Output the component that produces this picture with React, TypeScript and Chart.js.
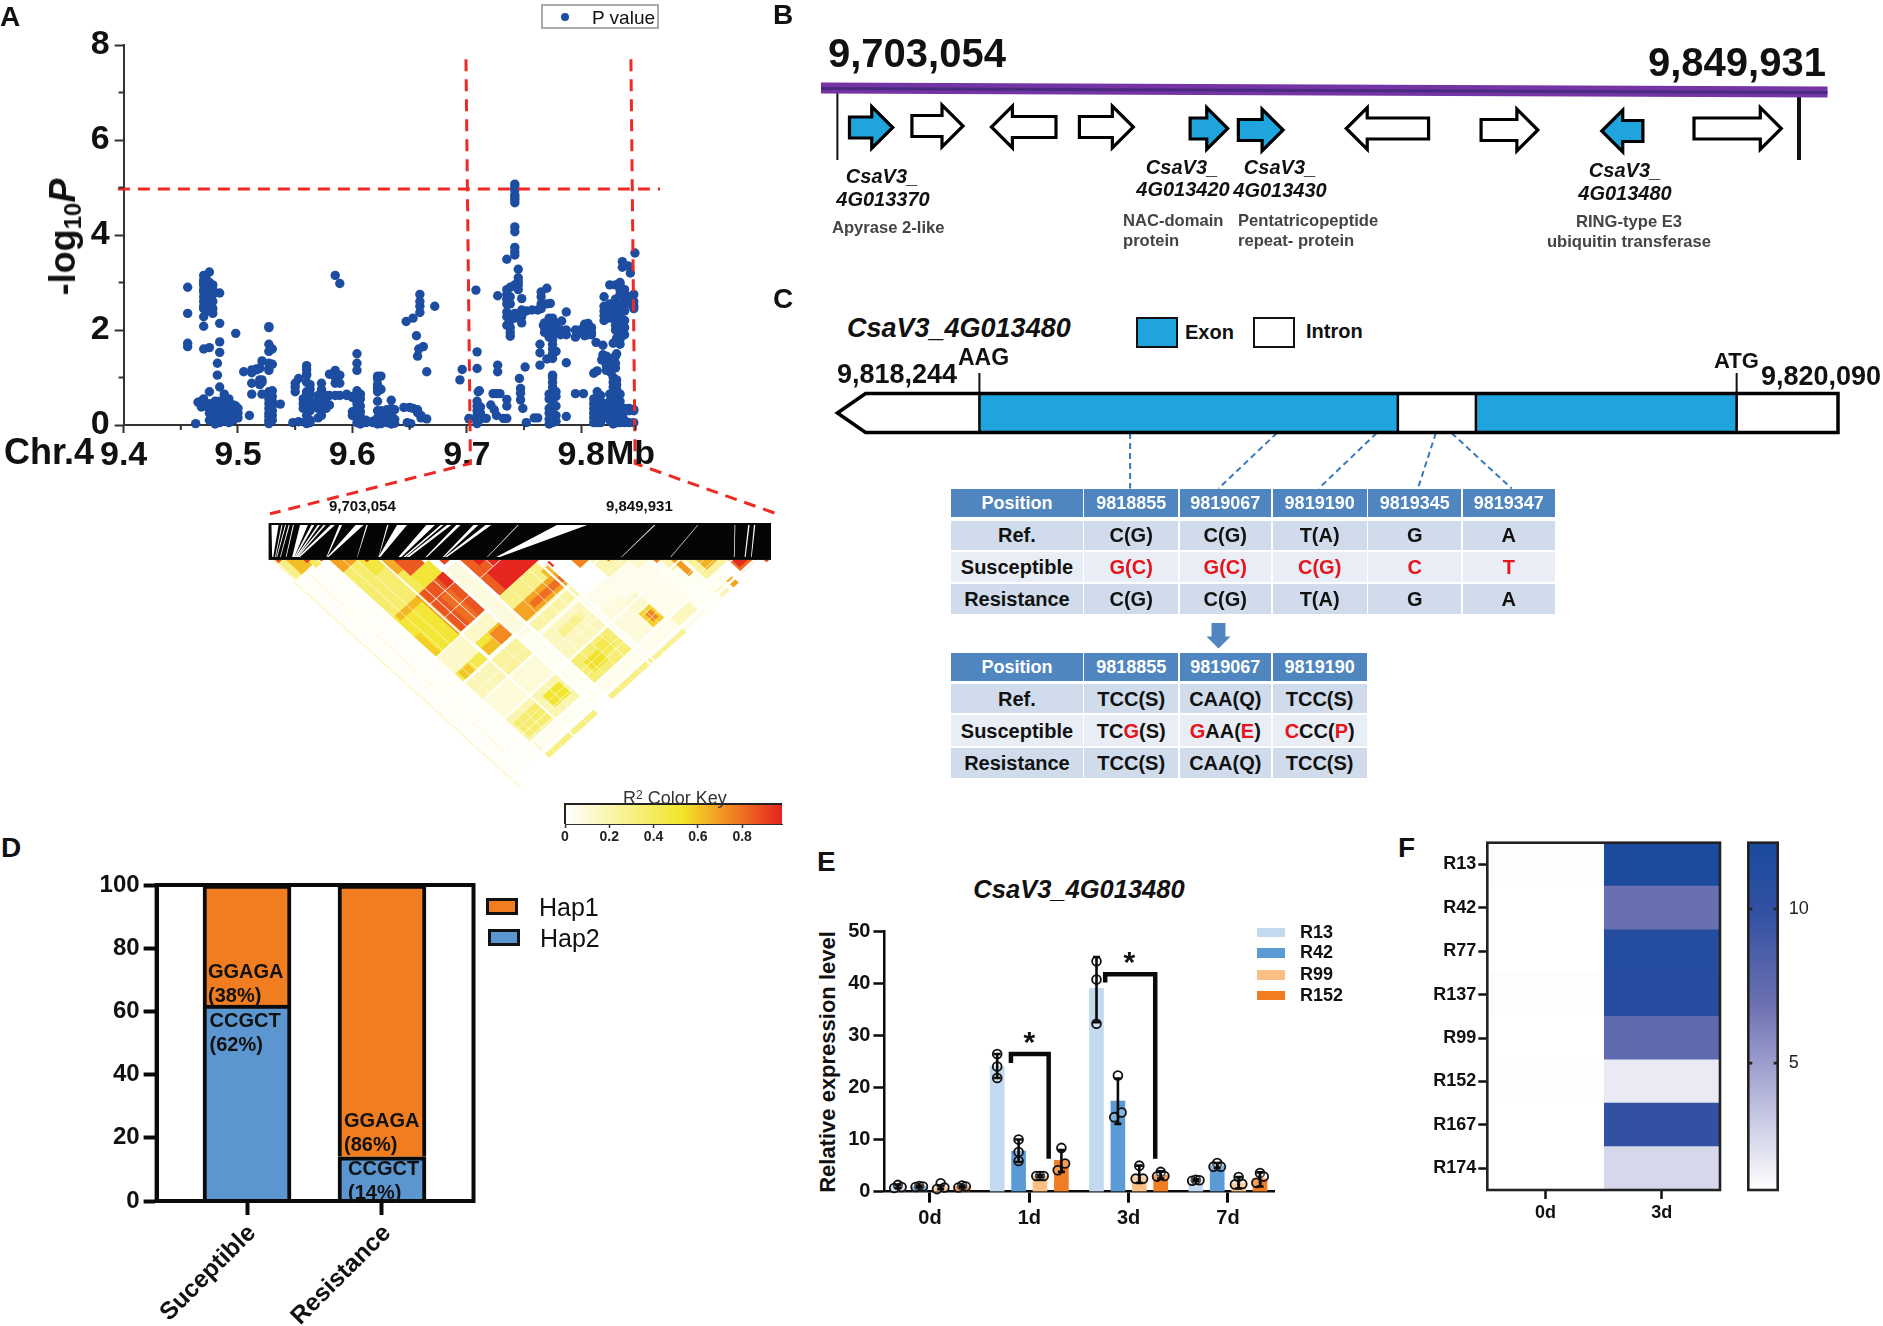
import React, { useEffect, useRef } from "react";
import { Chart, registerables } from "chart.js";

Chart.register(...registerables);

const FONT = '"Liberation Sans", Arial, sans-serif';

/* ---------- Panel A ---------- */
const snpColumns: [number, number[]][] = [
  [9.456, [2.9, 2.35, 1.72, 1.65]], [9.463, [0.03]], [9.465, [0.48]], [9.468, [0.5, 0.38]],
  [9.47, [3.15, 3.05, 3.0, 2.95, 2.85, 2.8, 2.7, 2.6, 2.5, 2.45, 2.28, 2.08, 1.6, 0.55, 0.4]],
  [9.472, [3.1, 2.95, 2.85, 2.75, 2.65, 2.5]],
  [9.475, [3.22, 3.0, 2.9, 2.8, 2.7, 2.6, 2.45, 2.4, 1.63, 0.7, 0.45, 0.35, 0.25, 0.1]],
  [9.478, [2.95, 2.85, 2.75, 2.6, 2.45, 2.35]], [9.48, [0.5, 0.4, 0.3, 0.2, 0.1, 0.02]],
  [9.482, [1.3, 1.05]], [9.484, [2.78, 2.14, 1.75, 1.53, 0.8, 0.5, 0.35, 0.2, 0.05]],
  [9.488, [0.65, 0.5, 0.4, 0.3, 0.2, 0.1]], [9.492, [0.55, 0.45, 0.35, 0.25, 0.15, 0.05]],
  [9.496, [0.42, 0.3, 0.2, 0.1]], [9.498, [1.93, 0.4, 0.3, 0.18]], [9.5, [0.35, 0.25, 0.15]],
  [9.505, [1.12]], [9.51, [0.2]], [9.512, [1.16, 1.1, 0.88, 0.65]], [9.516, [1.18, 1.16]],
  [9.519, [1.2, 1.19, 0.95, 0.85]], [9.521, [1.35, 0.95, 0.9, 0.65]],
  [9.527, [2.07, 2.05, 1.7, 1.55, 1.3, 1.2, 1.15, 0.7, 0.55, 0.45, 0.35, 0.25, 0.18, 0.1, 0.03]],
  [9.53, [1.6, 1.28, 0.72, 0.6, 0.5, 0.4, 0.3, 0.2, 0.1]], [9.537, [0.44]], [9.548, [0.05]],
  [9.55, [0.88, 0.8, 0.7]], [9.553, [0.98, 0.07]], [9.557, [0.55, 0.45, 0.35]],
  [9.56, [1.25, 1.17, 1.08, 1.05, 0.9, 0.7, 0.65, 0.55, 0.45, 0.35, 0.2, 0.1, 0.03]],
  [9.563, [0.85, 0.75, 0.65, 0.5, 0.4, 0.3, 0.1, 0.05]], [9.57, [0.62, 0.58, 0.45, 0.35, 0.15]],
  [9.573, [0.88, 0.75, 0.65, 0.55, 0.45, 0.33, 0.2]], [9.577, [0.62, 0.45, 0.35]],
  [9.58, [1.07, 0.62, 0.42]], [9.585, [3.15, 1.15, 1.0, 0.88, 0.62]],
  [9.589, [2.98, 1.05, 0.88, 0.62]], [9.595, [0.65, 0.62]], [9.6, [0.6, 0.58, 0.28, 0.2]],
  [9.604, [1.5, 1.3, 1.15, 0.72, 0.65, 0.55, 0.45, 0.35, 0.25, 0.15, 0.05]],
  [9.607, [0.65, 0.55, 0.4, 0.28, 0.18, 0.1, 0.02]], [9.612, [0.1, 0.05]], [9.618, [0.05, 0.08]],
  [9.622, [1.03, 0.98, 0.85, 0.78, 0.7, 0.5, 0.3, 0.15, 0.02]], [9.625, [1.03, 0.75, 0.3, 0.2, 0.1, 0.03]],
  [9.63, [0.32, 0.22, 0.12, 0.05]], [9.634, [0.52, 0.35, 0.2, 0.1, 0.02]], [9.637, [0.32, 0.12, 0.04]],
  [9.645, [0.37]], [9.647, [2.18]], [9.648, [0.05]], [9.65, [0.37]], [9.651, [0.03]], [9.653, [2.25, 0.35]],
  [9.656, [1.88]], [9.657, [1.45, 0.32, 0.26]], [9.658, [1.6]], [9.659, [2.75, 2.6, 2.5, 2.37]],
  [9.66, [0.2, 0.15]], [9.662, [1.65]], [9.665, [1.12, 0.13]], [9.672, [2.5]], [9.694, [0.95]],
  [9.696, [1.17]], [9.702, [0.14, 0.13]], [9.708, [2.84]],
  [9.709, [1.54, 1.19, 0.5, 0.4, 0.3, 0.2, 0.12, 0.03]], [9.71, [0.7]], [9.711, [0.72]],
  [9.712, [0.38, 0.25, 0.12]], [9.717, [0.14]], [9.721, [0.42]], [9.723, [0.66]], [9.724, [0.32]],
  [9.726, [0.66, 0.2]], [9.727, [2.72, 1.26, 1.12]], [9.729, [0.66]], [9.732, [0.14]],
  [9.735, [3.49, 2.85, 2.75, 2.65, 2.55, 2.38, 2.28, 2.1, 0.54, 0.4, 0.14]],
  [9.738, [2.9, 2.7, 2.55, 2.2, 2.05, 1.95, 1.87]],
  [9.742, [5.07, 5.0, 4.95, 4.85, 4.8, 4.75, 4.68, 4.17, 4.07, 3.74, 3.65, 3.58, 2.95, 2.35, 2.25]],
  [9.745, [3.28, 3.1, 3.02, 2.95, 2.85]], [9.746, [0.98]], [9.747, [0.77, 0.67, 0.53]],
  [9.748, [2.66, 2.42, 2.35, 2.28, 2.15]], [9.749, [0.35]], [9.751, [1.22]], [9.752, [2.4, 0.05]],
  [9.757, [2.42]], [9.759, [0.15]], [9.762, [2.42, 0.15]], [9.764, [1.7, 1.52, 1.26]],
  [9.765, [2.8, 2.7, 2.55, 2.45]], [9.767, [2.1]], [9.768, [2.15, 2.05, 1.95]], [9.77, [2.88, 2.55, 1.39]],
  [9.772, [2.25, 2.15, 2.05, 1.95, 1.85, 0.65, 0.55, 0.35, 0.25, 0.12, 0.02]], [9.773, [2.56]],
  [9.775, [2.25, 2.1, 2.0, 1.9, 1.8, 1.7, 1.6, 1.5, 1.4, 1.05, 1.0, 0.9, 0.8, 0.7, 0.62, 0.55, 0.45, 0.35, 0.25, 0.15, 0.05]],
  [9.778, [2.15, 2.0, 1.95, 1.55, 0.7, 0.6, 0.4, 0.2, 0.08]], [9.782, [2.0, 1.95, 1.9]], [9.783, [2.19]],
  [9.787, [2.38, 2.0, 1.9, 1.31, 0.18]], [9.795, [2.0, 1.85, 0.66]], [9.799, [2.0, 1.95]],
  [9.802, [0.66]], [9.803, [2.12, 2.0, 1.88]], [9.806, [2.14, 2.0, 1.9]], [9.809, [2.05, 1.95, 1.9]],
  [9.811, [1.09, 0.55, 0.45, 0.35, 0.25, 0.15, 0.05]], [9.813, [1.74]],
  [9.814, [1.14, 0.7, 0.55, 0.45, 0.35, 0.2, 0.05]], [9.817, [0.62, 0.5, 0.35, 0.2, 0.05]],
  [9.818, [1.37]], [9.819, [1.68, 1.48]], [9.82, [2.7, 2.5, 2.4, 2.3, 2.2, 0.45, 0.3, 0.18]],
  [9.822, [1.45, 1.35, 1.25, 1.15]], [9.825, [2.95, 2.55, 2.45, 2.35, 2.25, 0.65, 0.5, 0.4, 0.3, 0.2, 0.1]],
  [9.826, [1.4, 1.3, 1.2, 1.1]], [9.828, [1.72, 1.0, 0.9, 0.8, 0.7, 0.6, 0.5, 0.4, 0.3, 0.2, 0.1, 0.02]],
  [9.83, [2.95, 2.65, 2.55, 2.45, 2.35, 2.2, 2.1, 2.0, 1.45, 1.3, 1.2]],
  [9.831, [1.83, 1.5, 0.95, 0.85, 0.75, 0.6, 0.45, 0.35, 0.25, 0.15, 0.05]],
  [9.834, [3.0, 2.95, 2.85, 2.75, 2.55, 2.45, 2.3, 2.1, 2.0, 1.9, 1.8, 1.7, 0.65, 0.5, 0.4, 0.3, 0.2, 0.05]],
  [9.836, [3.44, 3.32]], [9.838, [2.85, 2.7, 2.55, 2.4, 2.2, 2.05, 1.9, 0.35, 0.28, 0.1, 0.05]],
  [9.841, [3.35]], [9.842, [2.7, 2.6, 2.55, 0.35, 0.3, 0.05]], [9.843, [3.2]],
  [9.846, [2.75, 2.6, 2.5, 2.45, 0.33, 0.3, 0.05]], [9.847, [3.62]],
];
const aXTicks = [9.4, 9.5, 9.6, 9.7, 9.8];
const aXMinor = [9.45, 9.55, 9.65, 9.75, 9.8475];
const aYTicks = [0, 2, 4, 6, 8];
const aYMinor = [1, 3, 5, 7];
const thresholdLine = [{ x: 9.395, y: 4.97 }, { x: 9.869, y: 4.97 }];
const regionLeft = [{ x: 9.6993, y: 7.7 }, { x: 9.7032, y: -0.81 }, { x: 9.528, y: -1.87 }];
const regionRight = [{ x: 9.8435, y: 7.7 }, { x: 9.8472, y: -0.81 }, { x: 9.971, y: -1.87 }];

/* ---------- LD heat map: [iFrom, iTo, jFrom, jTo, r2] in SNP index ---------- */
const ldBlocks: [number, number, number, number, number][] = [
  [52, 222, 190, 1420, 0.015], [222, 360, 980, 1425, 0.04], [360, 580, 965, 1425, 0.03],
  [583, 820, 1030, 1425, 0.05], [820, 1110, 1050, 1440, 0.05], [1110, 1290, 1110, 1440, 0.03],
  [52, 58, 190, 1460, 0.16], [120, 125, 190, 1300, 0.1], [228, 234, 980, 1420, 0.14],
  [60, 190, 60, 190, 0.14], [70, 120, 70, 190, 0.3], [100, 160, 100, 190, 0.62], [160, 190, 160, 210, 0.4],
  [222, 360, 222, 578, 0.36], [222, 300, 222, 300, 0.68], [300, 360, 300, 400, 0.48],
  [360, 400, 360, 460, 0.66], [400, 480, 400, 500, 0.85], [360, 400, 460, 578, 0.42], [400, 500, 500, 578, 0.5],
  [222, 360, 578, 820, 0.5], [235, 360, 578, 610, 0.63], [222, 250, 700, 820, 0.58],
  [355, 505, 577, 812, 0.86], [355, 372, 577, 812, 0.68], [470, 505, 577, 640, 0.95], [420, 470, 650, 812, 0.8],
  [505, 580, 580, 1000, 0.08],
  [590, 810, 590, 810, 0.97], [590, 625, 590, 810, 0.84], [625, 660, 660, 700, 0.84],
  [583, 800, 810, 890, 0.3], [583, 818, 890, 965, 0.68], [650, 818, 915, 945, 0.8], [583, 820, 965, 1030, 0.22],
  [780, 818, 850, 890, 0.62], [818, 835, 840, 870, 0.95],
  [375, 505, 888, 965, 0.62], [440, 505, 900, 965, 0.74], [375, 440, 890, 920, 0.5], [360, 505, 820, 888, 0.14],
  [222, 360, 825, 925, 0.14], [222, 360, 925, 975, 0.44], [235, 290, 930, 975, 0.6], [222, 360, 985, 1080, 0.18],
  [360, 505, 985, 1080, 0.24], [222, 505, 1090, 1195, 0.1],
  [586, 795, 1050, 1210, 0.16], [640, 760, 1080, 1120, 0.28], [586, 795, 1210, 1345, 0.35], [620, 700, 1250, 1310, 0.54],
  [700, 760, 1230, 1290, 0.44], [580, 820, 1420, 1445, 0.3],
  [222, 505, 1200, 1345, 0.2], [400, 490, 1240, 1310, 0.52], [235, 360, 1240, 1330, 0.36], [228, 500, 1425, 1450, 0.32],
  [820, 922, 1140, 1340, 0.09], [922, 983, 1180, 1256, 0.12], [922, 983, 1256, 1338, 0.58], [940, 970, 1275, 1320, 0.75],
  [820, 1000, 1425, 1445, 0.27], [1000, 1100, 1360, 1410, 0.16],
  [900, 950, 900, 950, 0.75], [950, 1060, 950, 1060, 0.2], [1060, 1120, 1060, 1120, 0.12],
  [1130, 1150, 1130, 1150, 0.75], [1150, 1220, 1150, 1220, 0.2], [1180, 1205, 1180, 1280, 0.7],
  [1220, 1340, 1220, 1340, 0.24], [1250, 1310, 1250, 1310, 0.65], [1340, 1420, 1340, 1420, 0.8], [1350, 1395, 1350, 1395, 0.96],
  [1270, 1300, 1400, 1440, 0.68], [1207, 1250, 1400, 1440, 0.18],
  [70, 90, 70, 90, 0.85], [150, 170, 150, 170, 0.9], [195, 205, 195, 205, 0.9], [320, 335, 320, 335, 0.9],
  [405, 420, 405, 420, 0.9], [530, 560, 530, 560, 0.9], [1000, 1010, 1000, 1010, 0.8], [1440, 1455, 1440, 1455, 0.9],
  // unlinked markers appear as white bands
  [215, 222, 215, 1460, 0], [360, 368, 360, 1460, 0], [505, 515, 505, 1460, 0], [574, 584, 574, 1460, 0],
  [795, 805, 810, 1460, 0], [818, 826, 826, 1460, 0], [52, 1460, 972, 980, 0], [52, 1460, 1200, 1208, 0],
  [52, 1460, 1346, 1354, 0], [52, 1460, 1408, 1420, 0], [52, 580, 1082, 1088, 0], [52, 520, 820, 825, 0],
  [400, 403, 577, 812, 0], [450, 453, 577, 812, 0], [355, 505, 640, 643, 0], [355, 505, 722, 725, 0],
  [660, 663, 590, 700, 0], [590, 810, 700, 703, 0],
  [260, 262, 260, 1460, 0], [300, 302, 300, 1460, 0], [440, 442, 820, 1460, 0], [640, 642, 810, 1460, 0],
  [700, 702, 810, 1460, 0], [750, 752, 810, 1460, 0], [870, 872, 870, 1460, 0], [950, 952, 950, 1460, 0],
  [52, 1460, 1040, 1042, 0], [52, 1460, 1120, 1122, 0], [52, 1460, 1150, 1152, 0], [52, 1460, 1270, 1272, 0],
  [52, 1460, 1300, 1302, 0],
];
const ldWedges: [number, number, number, number][] = [
  [60, 80, 62, 65], [88, 91, 70, 72], [98, 101, 74, 76], [108, 111, 84, 86], [120, 123, 100, 102], [140, 162, 118, 124],
  [172, 180, 124, 128], [190, 196, 128, 132], [206, 212, 130, 134], [226, 238, 134, 140], [250, 258, 214, 216], [296, 318, 216, 220],
  [326, 330, 300, 301], [384, 388, 360, 361], [412, 440, 360, 365], [494, 518, 416, 424], [534, 542, 430, 436], [552, 564, 438, 446],
  [578, 590, 492, 496], [626, 640, 540, 544], [660, 676, 546, 552], [750, 753, 664, 666], [860, 945, 690, 700],
  [1132, 1136, 1040, 1042], [1254, 1256, 1178, 1180], [1358, 1360, 1356, 1358], [1396, 1400, 1386, 1389], [1412, 1416, 1404, 1406],
];
const keyStops: [number, string][] = [[0, "#ffffff"], [0.53, "#f2e52a"], [0.7, "#f49a22"], [0.98, "#e4231f"]];
const keyTicks = [0, 0.2, 0.4, 0.6, 0.8];

/* ---------- Panel B ---------- */
const regionStart = 9703054;
const regionEnd = 9849931;
const geneStart = [9704897, 9714436, 9726577, 9740018, 9756929, 9764300, 9780777, 9801373, 9819801, 9833893];
const geneEnd = [9711509, 9722241, 9736441, 9748257, 9762674, 9771129, 9793351, 9810045, 9826088, 9847226];
const geneForward = [true, true, false, true, true, true, false, true, false, true];
const geneCandidate = [true, false, false, false, true, true, false, false, true, false];
const geneRow = [127.5, 126, 127, 127, 128.5, 130, 128.5, 130, 131, 128.5];

/* ---------- Panel C ---------- */
const utr3Tip = 9818244;
const bodyStart = 9818296;
const exon1Start = 9818506;
const exon1End = 9819278;
const exon2Start = 9819422;
const exon2End = 9819903;
const geneTail = 9820090;
const snpLinks: [number, number][] = [
  [9818784, 9818784], [9819055, 9818947], [9819239, 9819132], [9819348, 9819315], [9819377, 9819488],
];
const table1Columns = ["Position", "9818855", "9819067", "9819190", "9819345", "9819347"];
const table1Rows = [
  ["Ref.", "C(G)", "C(G)", "T(A)", "G", "A"],
  ["Susceptible", "[G(C)]", "[G(C)]", "[C(G)]", "[C]", "[T]"],
  ["Resistance", "C(G)", "C(G)", "T(A)", "G", "A"],
];
const table2Columns = ["Position", "9818855", "9819067", "9819190"];
const table2Rows = [
  ["Ref.", "TCC(S)", "CAA(Q)", "TCC(S)"],
  ["Susceptible", "TC[G](S)", "[G]AA([E])", "[C]CC([P])"],
  ["Resistance", "TCC(S)", "CAA(Q)", "TCC(S)"],
];

/* ---------- Panel D ---------- */
const dCategories = ["Suceptible", "Resistance"];
const hap2Values = [62, 14];
const hap1Values = [38, 86];
const dYTicks = [0, 20, 40, 60, 80, 100];

/* ---------- Panel E ---------- */
const eDays = ["0d", "1d", "3d", "7d"];
const eLines = ["R13", "R42", "R99", "R152"];
const eColors = ["#c3d9f0", "#5b9bd5", "#f9bf85", "#f07d22"];
const meanR13 = [0.9, 24, 39, 2.2];
const meanR42 = [1, 7.8, 17.4, 5];
const meanR99 = [0.9, 3, 2.9, 1.7];
const meanR152 = [1, 6, 3.2, 2.5];
const repsR13 = [[1.3, 0.9, 0.7], [26.4, 24, 21.8], [44.2, 40.7, 32.2], [2.3, 2.2, 2.1]];
const repsR42 = [[1.1, 1, 0.9], [10, 7.6, 5.9], [22.3, 15.2, 14.3], [5.5, 4.8, 4.8]];
const repsR99 = [[1.6, 0.8, 0.5], [3, 3, 3], [5, 2.5, 2.5], [2.8, 1.5, 1.4]];
const repsR152 = [[1.2, 1, 0.8], [8.4, 5.4, 4.1], [3.8, 3, 2.9], [3.6, 2.9, 1.7]];
const errR13: [number, number][] = [[0.7, 1.3], [21.8, 26.4], [32.5, 45], [2, 2.4]];
const errR42: [number, number][] = [[0.8, 1.2], [5.7, 10], [13, 21.7], [4.5, 5.5]];
const errR99: [number, number][] = [[0.5, 1.2], [2.8, 3.2], [1.7, 5], [0.6, 2.8]];
const errR152: [number, number][] = [[0.8, 1.2], [3.8, 8], [2.5, 3.9], [1, 3.7]];
const bracket1d = [{ x: 0.815, y: 24.7 }, { x: 0.815, y: 26.4 }, { x: 1.195, y: 26.4 }, { x: 1.195, y: 6.3 }];
const bracket3d = [{ x: 1.764, y: 40.1 }, { x: 1.764, y: 41.7 }, { x: 2.268, y: 41.7 }, { x: 2.268, y: 6.3 }];

/* ---------- Panel F ---------- */
const fRows = ["R13", "R42", "R77", "R137", "R99", "R152", "R167", "R174"];
const fColumns = ["0d", "3d"];
const fDay0 = [0.97, 0.92, 0.9, 0.97, 0.92, 0.96, 0.92, 0.9];
const fDay3 = [12, 7, 11.2, 11, 7.5, 1.8, 9.9, 2.6];
const fStops: [number, string][] = [
  [0.9, "#ffffff"], [2.6, "#d6d7ea"], [5, "#9c9dcd"], [7, "#6a6fb0"], [10, "#3050a2"], [12.15, "#1a4a9c"],
];

/* ---------- helpers ---------- */
type Box = { x: number; y: number; w: number; h: number };
type Plot = { l: number; t: number; r: number; b: number };

function hexRgb(h: string) {
  return [parseInt(h.slice(1, 3), 16), parseInt(h.slice(3, 5), 16), parseInt(h.slice(5, 7), 16)];
}
function ramp(stops: [number, string][], v: number) {
  if (v <= stops[0][0]) return stops[0][1];
  for (let k = 1; k < stops.length; k++) {
    if (v <= stops[k][0]) {
      const t = (v - stops[k - 1][0]) / (stops[k][0] - stops[k - 1][0]);
      const a = hexRgb(stops[k - 1][1]);
      const b = hexRgb(stops[k][1]);
      return `rgb(${a.map((c, n) => Math.round(c + (b[n] - c) * t)).join(",")})`;
    }
  }
  return stops[stops.length - 1][1];
}
const fitLeft = (box: Box, p: Plot) => ({
  padding: { left: 0, top: p.t - box.y, right: box.x + box.w - p.r, bottom: 0 },
  xFit: (s: any) => { s.height = box.y + box.h - p.b; s.paddingLeft = 0; s.paddingRight = 0; },
  yFit: (s: any) => { s.width = p.l - box.x; s.paddingTop = 0; s.paddingBottom = 0; },
});
const padAll = (box: Box, p: Plot) => ({
  left: p.l - box.x, top: p.t - box.y, right: box.x + box.w - p.r, bottom: box.y + box.h - p.b,
});
const base = {
  responsive: false, maintainAspectRatio: false, animation: false as const,
  plugins: { legend: { display: false }, tooltip: { enabled: false } },
};
const fixedTicks = (vals: number[]) => (s: any) => { s.ticks = vals.map((value) => ({ value })); };

function Panel({ box, config }: { box: Box; config: () => any }) {
  const ref = useRef<HTMLCanvasElement>(null);
  useEffect(() => {
    const c = new Chart(ref.current as HTMLCanvasElement, config());
    return () => c.destroy();
  }, []);
  return (
    <canvas ref={ref} width={box.w} height={box.h}
      style={{ position: "absolute", left: box.x, top: box.y, width: box.w, height: box.h }} />
  );
}

function T(p: { x: number; y: number; s: number; b?: boolean; i?: boolean; c?: string; a?: string; r?: number; children: any }) {
  const tx = p.a === "center" ? "-50%" : p.a === "right" ? "-100%" : "0";
  return (
    <div style={{
      position: "absolute", left: p.x, top: p.y, whiteSpace: "nowrap", lineHeight: 1,
      fontFamily: FONT, fontSize: p.s, fontWeight: p.b ? 700 : 400, fontStyle: p.i ? "italic" : "normal",
      color: p.c || "#111", transform: `translate(${tx},-50%)` + (p.r ? ` rotate(${p.r}deg)` : ""),
    }}>{p.children}</div>
  );
}
function Swatch({ x, y, w, h, fill, line = 0 }: { x: number; y: number; w: number; h: number; fill: string; line?: number }) {
  return <div style={{ position: "absolute", left: x, top: y, width: w, height: h, boxSizing: "border-box", background: fill, border: line ? `${line}px solid #111` : "none" }} />;
}
function Cell({ text, color }: { text: string; color: string }) {
  const parts = text.split(/(\[[^\]]*\])/).filter(Boolean);
  return <>{parts.map((s, k) => s[0] === "["
    ? <span key={k} style={{ color: "#e8141c" }}>{s.slice(1, -1)}</span>
    : <span key={k} style={{ color }}>{s}</span>)}</>;
}
function DataTable({ cols, rows, columns, body }: { cols: number[]; rows: number[][]; columns: string[]; body: string[][] }) {
  const all = [columns, ...body];
  const fill = ["#4f86c0", "#d0dcec", "#e9eef6", "#d0dcec"];
  return <>{all.flatMap((r, ri) => r.map((t, ci) => (
    <div key={ri + "-" + ci} style={{
      position: "absolute", left: cols[ci], top: rows[ri][0], width: cols[ci + 1] - cols[ci] - 1.5,
      height: rows[ri][1] - rows[ri][0], background: fill[ri], display: "flex", alignItems: "center",
      justifyContent: "center", fontFamily: FONT, fontWeight: 700, fontSize: ri === 0 ? 18 : 20, whiteSpace: "nowrap",
      paddingTop: 1, boxSizing: "border-box",
    }}><Cell text={t} color={ri === 0 ? "#ffffff" : "#111"} /></div>
  )))}</>;
}

/* ---------- chart configs ---------- */
const boxA: Box = { x: 0, y: 20, w: 800, h: 510 };
function configA() {
  const g = fitLeft(boxA, { l: 123.6, t: 45, r: 635.5, b: 425 });
  const points = snpColumns.flatMap(([x, ys]) => ys.map((y) => ({ x, y })));
  const red = { type: "line", borderColor: "#ee2a24", borderWidth: 3, borderDash: [12, 8], pointRadius: 0, clip: false, fill: false, tension: 0 };
  return {
    type: "scatter",
    data: {
      datasets: [
        { ...red, label: "threshold", data: thresholdLine },
        { ...red, label: "region start", data: regionLeft },
        { ...red, label: "region end", data: regionRight },
        { label: "P value", data: points, backgroundColor: "#1c4da0", borderColor: "#1c4da0", pointRadius: 4.7, pointBorderWidth: 0, clip: false },
      ],
    },
    options: {
      ...base,
      layout: { padding: g.padding },
      scales: {
        x: {
          type: "linear", min: 9.4, max: 9.8475, afterFit: g.xFit, afterBuildTicks: fixedTicks(aXTicks),
          border: { color: "#333", width: 2 },
          grid: { drawOnChartArea: false, tickLength: 8, tickWidth: 2, tickColor: "#333" },
          ticks: { autoSkip: false, maxRotation: 0, minRotation: 0, padding: 2, color: "#111", font: { family: FONT, size: 34, weight: "bold" }, callback: (v: number) => v.toFixed(1) },
        },
        y: {
          type: "linear", min: 0, max: 8, afterFit: g.yFit, afterBuildTicks: fixedTicks(aYTicks),
          border: { color: "#333", width: 2 },
          grid: { drawOnChartArea: false, tickLength: 9, tickWidth: 2, tickColor: "#333" },
          ticks: { autoSkip: false, padding: 5, color: "#111", font: { family: FONT, size: 34, weight: "bold" } },
        },
      },
    },
    plugins: [{
      id: "minorTicks",
      afterDraw(c: any) {
        const k = c.ctx, X = c.scales.x, Y = c.scales.y;
        k.save(); k.strokeStyle = "#333"; k.lineWidth = 2; k.beginPath();
        aXMinor.forEach((v) => { const p = X.getPixelForValue(v); k.moveTo(p, Y.bottom); k.lineTo(p, Y.bottom + 5); });
        aYMinor.forEach((v) => { const p = Y.getPixelForValue(v); k.moveTo(X.left, p); k.lineTo(X.left - 5, p); });
        k.stroke(); k.restore();
      },
    }],
  };
}

const boxLD: Box = { x: 260, y: 515, w: 520, h: 280 };
function configLD() {
  return {
    type: "scatter",
    data: { datasets: [{ label: "LD", data: [] }] },
    options: {
      ...base,
      layout: { padding: padAll(boxLD, { l: 268.6, t: 523, r: 771, b: 788 }) },
      scales: { x: { display: false, type: "linear", min: 52, max: 1460 }, y: { display: false, type: "linear", min: -228, max: 1408, reverse: true } },
    },
    plugins: [{
      id: "ld",
      afterDatasetsDraw(c: any) {
        const k = c.ctx, X = c.scales.x, Y = c.scales.y;
        const px = (i: number, j: number) => [X.getPixelForValue((i + j) / 2), Y.getPixelForValue(j - i)];
        k.save();
        k.beginPath(); k.moveTo(X.getPixelForValue(52), Y.getPixelForValue(0));
        k.lineTo(X.getPixelForValue(1460), Y.getPixelForValue(0));
        k.lineTo(X.getPixelForValue(756), Y.getPixelForValue(1408)); k.closePath(); k.clip();
        ldBlocks.forEach(([a, b, p, q, r]) => {
          const pts = [px(a, p), px(a, q), px(b, q), px(b, p)];
          k.fillStyle = ramp(keyStops, r);
          k.beginPath(); pts.forEach(([u, v], n) => (n ? k.lineTo(u, v) : k.moveTo(u, v))); k.closePath(); k.fill();
        });
        k.restore();
        k.save();
        const top = Y.getPixelForValue(-228), bot = Y.getPixelForValue(0);
        k.fillStyle = "#050505";
        k.fillRect(X.left, top, X.right - X.left, bot - top);
        k.fillStyle = "#ffffff";
        ldWedges.forEach(([a, b, d, e]) => {
          k.beginPath();
          k.moveTo(X.getPixelForValue(a), top + 2); k.lineTo(X.getPixelForValue(b), top + 2);
          k.lineTo(X.getPixelForValue(e), bot - 3); k.lineTo(X.getPixelForValue(d), bot - 3);
          k.closePath(); k.fill();
        });
        k.restore();
      },
    }],
  };
}

const boxKey: Box = { x: 550, y: 795, w: 250, h: 55 };
function configKey() {
  const g = fitLeft(boxKey, { l: 565, t: 804, r: 782, b: 824 });
  return {
    type: "scatter",
    data: { datasets: [{ label: "R2", data: [] }] },
    options: {
      ...base,
      layout: { padding: g.padding },
      scales: {
        x: {
          type: "linear", min: 0, max: 0.98, afterFit: g.xFit, afterBuildTicks: fixedTicks(keyTicks),
          border: { color: "#333", width: 1 },
          grid: { drawOnChartArea: false, tickLength: 4, tickWidth: 1.5, tickColor: "#333" },
          ticks: { autoSkip: false, maxRotation: 0, minRotation: 0, padding: 1, color: "#222", font: { family: FONT, size: 14, weight: "bold" }, callback: (v: number) => String(v) },
        },
        y: { type: "linear", min: 0, max: 1, afterFit: g.yFit, ticks: { display: false }, grid: { display: false }, border: { display: false } },
      },
    },
    plugins: [{
      id: "key",
      beforeDatasetsDraw(c: any) {
        const k = c.ctx, X = c.scales.x, a = c.chartArea;
        const gr = k.createLinearGradient(X.getPixelForValue(0), 0, X.getPixelForValue(0.98), 0);
        keyStops.forEach(([v, col]) => gr.addColorStop(v / 0.98, col));
        k.fillStyle = gr; k.fillRect(a.left, a.top, a.right - a.left, a.bottom - a.top);
        k.strokeStyle = "#222"; k.lineWidth = 2; k.beginPath();
        k.moveTo(a.right, a.top); k.lineTo(a.left, a.top); k.lineTo(a.left, a.bottom); k.stroke();
      },
    }],
  };
}

const boxB: Box = { x: 800, y: 70, w: 1060, h: 110 };
function configB() {
  const bar = (w: number, col: string) => ({ type: "line", borderColor: col, borderWidth: w, pointRadius: 0, clip: false, tension: 0 });
  return {
    type: "scatter",
    data: {
      datasets: [
        { ...bar(3, "#4a2a80"), data: [{ x: 9700549, y: 88.5 }, { x: 9854286, y: 92.5 }] },
        { ...bar(11, "#7434a4"), data: [{ x: 9700549, y: 88 }, { x: 9854286, y: 92 }] },
        { ...bar(2, "#111"), data: [{ x: regionStart, y: 93 }, { x: regionStart, y: 160 }] },
        { ...bar(4, "#111"), data: [{ x: regionEnd, y: 96 }, { x: regionEnd, y: 160 }] },
      ],
    },
    options: {
      ...base,
      layout: { padding: padAll(boxB, { l: 837.4, t: 80, r: 1799, b: 170 }) },
      scales: { x: { display: false, type: "linear", min: regionStart, max: regionEnd }, y: { display: false, type: "linear", min: 80, max: 170, reverse: true } },
    },
    plugins: [{
      id: "genes",
      afterDatasetsDraw(c: any) {
        const k = c.ctx, X = c.scales.x, Y = c.scales.y;
        k.save(); k.lineJoin = "miter"; k.lineWidth = 3.2; k.strokeStyle = "#000";
        geneStart.forEach((g, n) => {
          const a = X.getPixelForValue(g), b = X.getPixelForValue(geneEnd[n]), m = Y.getPixelForValue(geneRow[n]);
          const head = 21, sh = 10.5, hh = 21;
          const d = geneForward[n]
            ? [[a, m - sh], [b - head, m - sh], [b - head, m - hh], [b, m], [b - head, m + hh], [b - head, m + sh], [a, m + sh]]
            : [[b, m - sh], [a + head, m - sh], [a + head, m - hh], [a, m], [a + head, m + hh], [a + head, m + sh], [b, m + sh]];
          k.beginPath(); d.forEach(([u, v], i) => (i ? k.lineTo(u, v) : k.moveTo(u, v))); k.closePath();
          k.fillStyle = geneCandidate[n] ? "#20a4de" : "#fff"; k.fill(); k.stroke();
        });
        k.restore();
      },
    }],
  };
}

const boxC: Box = { x: 820, y: 365, w: 1040, h: 130 };
function configC() {
  const line = (w: number, col: string, dash: number[] = []) => ({ type: "line", borderColor: col, borderWidth: w, borderDash: dash, pointRadius: 0, clip: false, tension: 0 });
  return {
    type: "scatter",
    data: {
      datasets: [
        { ...line(2, "#111"), data: [{ x: exon1Start, y: 373 }, { x: exon1Start, y: 393 }] },
        { ...line(2, "#111"), data: [{ x: exon2End, y: 373 }, { x: exon2End, y: 393 }] },
        ...snpLinks.map(([g, t]) => ({ ...line(2, "#3a78ba", [6, 4]), data: [{ x: g, y: 433 }, { x: t, y: 488.5 }] })),
      ],
    },
    options: {
      ...base,
      layout: { padding: padAll(boxC, { l: 837.4, t: 370, r: 1838, b: 490 }) },
      scales: { x: { display: false, type: "linear", min: utr3Tip, max: geneTail }, y: { display: false, type: "linear", min: 370, max: 490, reverse: true } },
    },
    plugins: [{
      id: "model",
      afterDatasetsDraw(c: any) {
        const k = c.ctx, X = c.scales.x, Y = c.scales.y;
        const t = Y.getPixelForValue(393.5), b = Y.getPixelForValue(432.5), m = (t + b) / 2;
        k.save(); k.lineWidth = 3.5; k.strokeStyle = "#000"; k.lineJoin = "miter";
        k.fillStyle = "#20a4de";
        [[exon1Start, exon1End], [exon2Start, exon2End]].forEach(([p, q]) => {
          const a = X.getPixelForValue(p), e = X.getPixelForValue(q);
          k.fillRect(a, t, e - a, b - t);
        });
        k.beginPath();
        k.moveTo(X.getPixelForValue(utr3Tip), m); k.lineTo(X.getPixelForValue(bodyStart), t);
        k.lineTo(X.getPixelForValue(geneTail), t); k.lineTo(X.getPixelForValue(geneTail), b);
        k.lineTo(X.getPixelForValue(bodyStart), b); k.closePath(); k.stroke();
        k.lineWidth = 2.5;
        [exon1Start, exon1End, exon2Start, exon2End].forEach((p) => {
          const a = X.getPixelForValue(p);
          k.beginPath(); k.moveTo(a, t); k.lineTo(a, b); k.stroke();
        });
        k.restore();
      },
    }],
  };
}

const boxD: Box = { x: 60, y: 870, w: 460, h: 456 };
function configD() {
  const g = fitLeft(boxD, { l: 156.6, t: 885, r: 473.5, b: 1201 });
  const ser = (label: string, vals: number[], color: string) => ({
    label, data: vals.map((y, n) => ({ x: n + 1, y })), backgroundColor: color, borderColor: "#0a0a0a", borderWidth: 4, barThickness: 88,
  });
  return {
    type: "bar",
    data: { datasets: [ser("Hap2", hap2Values, "#5b96d1"), ser("Hap1", hap1Values, "#f07d1f")] },
    options: {
      ...base,
      layout: { padding: g.padding },
      scales: {
        x: {
          type: "linear", offset: false, stacked: true, min: 0.33, max: 2.678, afterFit: g.xFit, afterBuildTicks: fixedTicks([1, 2]),
          border: { color: "#0a0a0a", width: 4 },
          grid: { offset: false, drawOnChartArea: false, tickLength: 14, tickWidth: 4, tickColor: "#0a0a0a" },
          ticks: { autoSkip: false, maxRotation: 45, minRotation: 45, padding: 4, labelOffset: 5, color: "#111", font: { family: FONT, size: 24.5, weight: "bold" }, callback: (v: number) => dCategories[v - 1] },
        },
        y: {
          type: "linear", stacked: true, min: 0, max: 100, afterFit: g.yFit, afterBuildTicks: fixedTicks(dYTicks),
          border: { color: "#0a0a0a", width: 4 },
          grid: { drawOnChartArea: false, tickLength: 13, tickWidth: 4, tickColor: "#0a0a0a" },
          ticks: { autoSkip: false, padding: 4, color: "#111", font: { family: FONT, size: 24, weight: "bold" } },
        },
      },
    },
    plugins: [{
      id: "frame",
      afterDatasetsDraw(c: any) {
        const k = c.ctx, a = c.chartArea;
        k.save(); k.strokeStyle = "#0a0a0a"; k.lineWidth = 4; k.strokeRect(a.left, a.top, a.right - a.left, a.bottom - a.top); k.restore();
      },
    }],
  };
}

const boxE: Box = { x: 840, y: 915, w: 450, h: 320 };
function configE() {
  const g = fitLeft(boxE, { l: 884.4, t: 931, r: 1274.7, b: 1191.7 });
  const means = [meanR13, meanR42, meanR99, meanR152];
  const reps = [repsR13, repsR42, repsR99, repsR152];
  const errs = [errR13, errR42, errR99, errR152];
  const offset = (k: number) => (k - 1.5) * 0.2155;
  // replicates only spread sideways when their circles would otherwise overlap
  const spread = (ys: number[], n: number) => (n === 0 || Math.abs(ys[1] - ys[2]) >= 1.5 ? 0 : n === 1 ? 0.037 : -0.037);
  const stroke = { type: "line", borderColor: "#0a0a0a", borderWidth: 4.5, pointRadius: 0, clip: false, tension: 0, borderJoinStyle: "miter" };
  return {
    type: "bar",
    data: {
      datasets: [
        { ...stroke, data: bracket1d },
        { ...stroke, data: bracket3d },
        ...reps.map((r, k) => ({
          type: "scatter", label: eLines[k] + " replicates",
          data: r.flatMap((ys, d) => ys.map((y, n) => ({ x: d + offset(k) + spread(ys, n), y }))),
          backgroundColor: "rgba(255,255,255,0.25)", borderColor: "#111", pointRadius: 4.4, pointBorderWidth: 1.8, clip: false,
        })),
        ...means.map((m, k) => ({
          label: eLines[k], data: m.map((y, d) => ({ x: d + offset(k), y })), backgroundColor: eColors[k], barThickness: 14, grouped: false,
        })),
      ],
    },
    options: {
      ...base,
      layout: { padding: g.padding },
      scales: {
        x: {
          type: "linear", offset: false, min: -0.459, max: 3.471, afterFit: g.xFit, afterBuildTicks: fixedTicks([0, 1, 2, 3]),
          border: { color: "#0a0a0a", width: 2.5 },
          grid: { offset: false, drawOnChartArea: false, tickLength: 11, tickWidth: 3, tickColor: "#0a0a0a" },
          ticks: { autoSkip: false, maxRotation: 0, minRotation: 0, padding: 4, color: "#111", font: { family: FONT, size: 20, weight: "bold" }, callback: (v: number) => eDays[v] },
        },
        y: {
          type: "linear", min: 0, max: 50, afterFit: g.yFit, afterBuildTicks: fixedTicks([0, 10, 20, 30, 40, 50]),
          border: { color: "#0a0a0a", width: 2.5 },
          grid: { drawOnChartArea: false, tickLength: 11, tickWidth: 2.5, tickColor: "#0a0a0a" },
          ticks: { autoSkip: false, padding: 3, color: "#111", font: { family: FONT, size: 20, weight: "bold" } },
        },
      },
    },
    plugins: [{
      id: "errors",
      afterDatasetsDraw(c: any) {
        const k = c.ctx, X = c.scales.x, Y = c.scales.y;
        k.save(); k.strokeStyle = "#0a0a0a"; k.lineWidth = 2.6;
        errs.forEach((e, s) => e.forEach(([lo, hi], d) => {
          const p = X.getPixelForValue(d + offset(s)), a = Y.getPixelForValue(lo), b = Y.getPixelForValue(hi);
          k.beginPath(); k.moveTo(p, a); k.lineTo(p, b);
          k.moveTo(p - 3.5, a); k.lineTo(p + 3.5, a); k.moveTo(p - 3.5, b); k.lineTo(p + 3.5, b); k.stroke();
        }));
        k.restore();
      },
    }],
  };
}

const boxF: Box = { x: 1420, y: 830, w: 320, h: 400 };
function configF() {
  const g = fitLeft(boxF, { l: 1487.3, t: 842.7, r: 1720, b: 1190 });
  return {
    type: "bar",
    data: {
      labels: fRows,
      datasets: [
        { label: "0d", data: fDay0.map(() => [0, 1]), backgroundColor: fDay0.map((v) => ramp(fStops, v)), barPercentage: 1, categoryPercentage: 1, grouped: false },
        { label: "3d", data: fDay3.map(() => [1, 2]), backgroundColor: fDay3.map((v) => ramp(fStops, v)), barPercentage: 1, categoryPercentage: 1, grouped: false },
      ],
    },
    options: {
      ...base,
      indexAxis: "y",
      layout: { padding: g.padding },
      scales: {
        x: {
          type: "linear", min: 0, max: 2, afterFit: g.xFit, afterBuildTicks: fixedTicks([0.5, 1.5]),
          border: { display: false },
          grid: { drawOnChartArea: false, tickLength: 9, tickWidth: 2.5, tickColor: "#111" },
          ticks: { autoSkip: false, maxRotation: 0, minRotation: 0, padding: 3, color: "#111", font: { family: FONT, size: 18, weight: "bold" }, callback: (v: number) => fColumns[Math.floor(v)] },
        },
        y: {
          type: "category", afterFit: g.yFit,
          border: { display: false },
          grid: { offset: false, drawOnChartArea: false, tickLength: 9, tickWidth: 2.5, tickColor: "#111" },
          ticks: { autoSkip: false, padding: 2, color: "#111", font: { family: FONT, size: 18, weight: "bold" } },
        },
      },
    },
    plugins: [{
      id: "frame",
      afterDatasetsDraw(c: any) {
        const k = c.ctx, a = c.chartArea;
        k.save(); k.strokeStyle = "#222"; k.lineWidth = 2.6; k.strokeRect(a.left, a.top, a.right - a.left, a.bottom - a.top); k.restore();
      },
    }],
  };
}

const boxBar: Box = { x: 1740, y: 830, w: 90, h: 370 };
function configBar() {
  const p = { l: 1748.3, t: 842.7, r: 1777.7, b: 1190 };
  return {
    type: "scatter",
    data: { datasets: [{ label: "scale", data: [] }] },
    options: {
      ...base,
      layout: { padding: { left: p.l - boxBar.x, top: p.t - boxBar.y, right: 0, bottom: boxBar.y + boxBar.h - p.b } },
      scales: {
        x: { display: false, type: "linear", min: 0, max: 1 },
        y: {
          position: "right", type: "linear", min: 0.886, max: 12.15,
          afterFit: (s: any) => { s.width = boxBar.x + boxBar.w - p.r; s.paddingTop = 0; s.paddingBottom = 0; },
          afterBuildTicks: fixedTicks([5, 10]),
          border: { display: false }, grid: { display: false },
          ticks: { autoSkip: false, padding: 3, color: "#222", font: { family: FONT, size: 18 } },
        },
      },
    },
    plugins: [{
      id: "bar",
      beforeDatasetsDraw(c: any) {
        const k = c.ctx, Y = c.scales.y, a = c.chartArea;
        const top = 12.15, bot = 0.9;
        const gr = k.createLinearGradient(0, Y.getPixelForValue(bot), 0, Y.getPixelForValue(top));
        fStops.forEach(([v, col]) => gr.addColorStop((v - bot) / (top - bot), col));
        k.save(); k.fillStyle = gr; k.fillRect(a.left, a.top, a.right - a.left, a.bottom - a.top);
        k.strokeStyle = "#222"; k.lineWidth = 2.6; k.strokeRect(a.left, a.top, a.right - a.left, a.bottom - a.top);
        [5, 10].forEach((v) => {
          const y = Y.getPixelForValue(v);
          k.beginPath(); k.moveTo(a.left, y); k.lineTo(a.left + 4, y); k.moveTo(a.right - 4, y); k.lineTo(a.right, y); k.stroke();
        });
        k.restore();
      },
    }],
  };
}

/* ---------- page ---------- */
const ePos = [932, 952.3, 974, 994.7];
const eSw = [927.7, 948.3, 970, 990.7];
const table1X = [951, 1084.4, 1179.5, 1272.5, 1368.3, 1462.7, 1556.4];
const table1Y = [[489.3, 517.3], [520.7, 550], [551.7, 582.3], [584, 614.3]];
const table2X = [951, 1084.4, 1179.5, 1272.5, 1368.3];
const table2Y = [[653.3, 681], [684.3, 713.3], [715, 746], [747.7, 778.3]];

export default function App() {
  useEffect(() => { document.body.style.margin = "0"; document.body.style.background = "#fff"; }, []);
  const G = "#444";
  return (
    <div style={{ position: "absolute", left: 0, top: 0, width: 1883, height: 1326, overflow: "hidden", background: "#fff" }}>
      <Panel box={boxLD} config={configLD} />
      <Panel box={boxKey} config={configKey} />
      <Panel box={boxA} config={configA} />
      <Panel box={boxB} config={configB} />
      <Panel box={boxC} config={configC} />
      <Panel box={boxD} config={configD} />
      <Panel box={boxE} config={configE} />
      <Panel box={boxF} config={configF} />
      <Panel box={boxBar} config={configBar} />

      <T x={0} y={17} s={28} b>A</T>
      <T x={773} y={15} s={28} b>B</T>
      <T x={773} y={299} s={28} b>C</T>
      <T x={1} y={848} s={28} b>D</T>
      <T x={817} y={862} s={28} b>E</T>
      <T x={1398} y={848} s={28} b>F</T>

      {/* A */}
      <div style={{ position: "absolute", left: 541, top: 4, width: 118, height: 25, boxSizing: "border-box", border: "2px solid #aaa" }} />
      <div style={{ position: "absolute", left: 560.5, top: 12.5, width: 8, height: 8, borderRadius: 4, background: "#1c4da0" }} />
      <T x={592} y={17} s={19}>P value</T>
      <T x={65} y={237} s={36} b a="center" r={-90}>
        -log<sub style={{ fontSize: 24, verticalAlign: "-6px" }}>10</sub><i>P</i>
      </T>
      <T x={4} y={452} s={36} b>Chr.4</T>
      <T x={606} y={452} s={34} b>Mb</T>
      <T x={329} y={505} s={15} b>9,703,054</T>
      <T x={606} y={505} s={15} b>9,849,931</T>
      <T x={623} y={798} s={18} c="#333">R<sup style={{ fontSize: 12, verticalAlign: "5px" }}>2</sup> Color Key</T>

      {/* B */}
      <T x={828} y={53} s={40} b>9,703,054</T>
      <T x={1648} y={62} s={40} b>9,849,931</T>
      <T x={882} y={176} s={20} b i a="center">CsaV3_</T>
      <T x={883} y={199} s={20} b i a="center">4G013370</T>
      <T x={1182} y={167} s={20} b i a="center">CsaV3_</T>
      <T x={1183} y={189} s={20} b i a="center">4G013420</T>
      <T x={1280} y={167} s={20} b i a="center">CsaV3_</T>
      <T x={1280} y={190} s={20} b i a="center">4G013430</T>
      <T x={1625} y={170} s={20} b i a="center">CsaV3_</T>
      <T x={1625} y={193} s={20} b i a="center">4G013480</T>
      <T x={832} y={228} s={16.6} b c={G}>Apyrase 2-like</T>
      <T x={1123} y={221} s={16.6} b c={G}>NAC-domain</T>
      <T x={1123} y={241} s={16.6} b c={G}>protein</T>
      <T x={1238} y={221} s={16.6} b c={G}>Pentatricopeptide</T>
      <T x={1238} y={241} s={16.6} b c={G}>repeat- protein</T>
      <T x={1629} y={222} s={16.6} b c={G} a="center">RING-type E3</T>
      <T x={1629} y={242} s={16.6} b c={G} a="center">ubiquitin transferase</T>

      {/* C */}
      <T x={847} y={328} s={27} b i>CsaV3_4G013480</T>
      <Swatch x={1135.5} y={317} w={42.5} h={31} fill="#20a4de" line={2.5} />
      <T x={1185} y={332} s={20} b>Exon</T>
      <Swatch x={1252.5} y={317} w={42.5} h={31} fill="#fff" line={2.5} />
      <T x={1306} y={331} s={20} b>Intron</T>
      <T x={837} y={374} s={27} b>9,818,244</T>
      <T x={958} y={357} s={23} b>AAG</T>
      <T x={1714} y={361} s={22} b>ATG</T>
      <T x={1761} y={376} s={27} b>9,820,090</T>
      <DataTable cols={table1X} rows={table1Y} columns={table1Columns} body={table1Rows} />
      <div style={{
        position: "absolute", left: 1206.5, top: 622.5, width: 24, height: 26, background: "#4f86c0",
        clipPath: "polygon(21% 0, 79% 0, 79% 54%, 100% 54%, 50% 100%, 0 54%, 21% 54%)",
      }} />
      <DataTable cols={table2X} rows={table2Y} columns={table2Columns} body={table2Rows} />

      {/* D */}
      <T x={208} y={971} s={20} b>GGAGA</T>
      <T x={208} y={995} s={20} b>(38%)</T>
      <T x={209.5} y={1020} s={20} b>CCGCT</T>
      <T x={209.5} y={1044} s={20} b>(62%)</T>
      <T x={344} y={1120} s={20} b>GGAGA</T>
      <T x={344} y={1144} s={20} b>(86%)</T>
      <T x={348} y={1168} s={20} b>CCGCT</T>
      <T x={348} y={1192} s={20} b>(14%)</T>
      <Swatch x={486} y={898} w={32} h={17} fill="#f07d1f" line={3} />
      <T x={539} y={907} s={25}>Hap1</T>
      <Swatch x={487.5} y={929} w={32} h={17} fill="#5b96d1" line={3} />
      <T x={540} y={938} s={25}>Hap2</T>

      {/* E */}
      <T x={1079} y={890} s={25.5} b i a="center">CsaV3_4G013480</T>
      <T x={828} y={1062} s={22} b a="center" r={-90}>Relative expression level</T>
      <T x={1029.4} y={1042} s={30} b a="center">*</T>
      <T x={1129.3} y={962} s={30} b a="center">*</T>
      {eLines.map((n, k) => (
        <React.Fragment key={n}>
          <Swatch x={1257} y={eSw[k]} w={27.6} h={9.5} fill={eColors[k]} />
          <T x={1300} y={ePos[k]} s={18} b>{n}</T>
        </React.Fragment>
      ))}
    </div>
  );
}
